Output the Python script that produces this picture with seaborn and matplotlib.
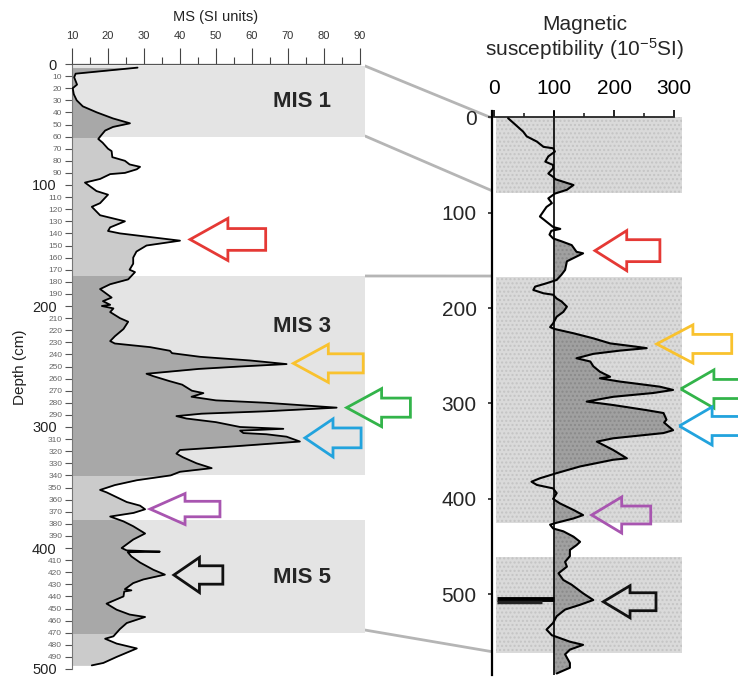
import matplotlib
matplotlib.use("Agg")
import matplotlib.pyplot as plt
import seaborn as sns
import numpy as np
import pandas as pd
from matplotlib.patches import Rectangle, Polygon, ConnectionPatch
from matplotlib.transforms import ScaledTranslation

# ---------------- data ----------------
left_depth = [3, 8, 11, 17, 20, 25, 30, 35, 40, 45, 49, 52, 55, 60, 62, 65, 70, 72, 77, 80,
              83, 85, 87, 90, 91, 95, 98, 105, 108, 115, 118, 125, 128, 130, 135, 138, 140, 143,
              146, 150, 155, 160, 165, 170, 172, 178, 182, 186, 190, 193, 196, 199, 200, 202,
              205, 210, 213, 219, 225, 229, 231, 234, 237, 239, 242, 245, 248, 250, 252, 256,
              258, 262, 265, 270, 272, 275, 278, 280, 284, 287, 289, 291, 293, 296, 300, 301.5,
              303, 305, 306, 308, 312, 316, 319, 322, 325, 330, 334, 337, 340, 344, 348, 352,
              354, 358, 362, 365, 368, 371, 374, 378, 382, 388, 393, 400, 402, 403, 403.5, 407,
              412, 418, 422, 426, 429, 434, 435, 436, 440, 446, 451, 455, 457, 462, 467, 470,
              473, 475, 479, 483, 490, 495, 497]
left_ms = [28.2, 11.0, 10.6, 11.4, 10.2, 10.5, 11.3, 13.0, 16.9, 21.4, 26.1, 21.4, 19.2, 17.8,
           17.3, 18.5, 20.0, 21.0, 21.2, 24.7, 26.0, 28.9, 28.0, 24.7, 20.6, 17.8, 13.6, 16.8,
           20.0, 17.8, 15.5, 17.8, 21.9, 24.7, 20.6, 20.0, 23.3, 31.7, 40.0, 30.7, 27.9, 27.0,
           27.0, 26.0, 27.5, 25.6, 20.6, 17.8, 19.6, 21.0, 18.6, 20.6, 18.3, 21.5, 20.6, 23.3,
           25.6, 24.3, 21.9, 20.6, 21.9, 31.7, 37.2, 37.8, 45.6, 59.4, 69.6, 56.7, 45.2, 30.7,
           32.6, 37.0, 40.6, 43.3, 46.5, 43.2, 50.0, 64.0, 83.5, 64.0, 46.0, 39.0, 41.8, 50.0,
           56.7, 68.7, 56.7, 57.6, 64.0, 69.6, 73.3, 55.0, 40.0, 39.0, 40.8, 44.6, 48.8, 40.0,
           37.4, 28.0, 21.9, 17.8, 19.6, 22.4, 25.2, 28.9, 30.3, 27.1, 20.6, 24.3, 27.0, 30.3,
           27.0, 23.8, 25.2, 34.4, 25.5, 26.5, 28.9, 32.6, 35.8, 29.8, 27.0, 24.7, 26.5, 24.5,
           24.3, 19.6, 22.4, 26.0, 30.3, 25.2, 23.3, 22.4, 21.5, 19.2, 22.4, 28.0, 22.4, 18.7,
           15.5]

right_depth = [1, 6, 15, 20, 25.5, 31, 32.5, 36, 41, 46.5, 50, 53.5, 59, 62.5, 65, 71, 76, 80,
               85, 90, 94, 104, 109.5, 115, 117, 119, 123, 127, 130, 134, 141, 142.6, 146, 151,
               160, 165, 170.5, 174, 177.5, 181, 184.5, 186, 190, 193, 198.5, 204, 209, 216,
               220, 222, 226.4, 231.7, 237, 240.5, 242, 244.6, 248, 252.6, 256, 261, 266.7,
               272, 273.6, 277, 280.6, 282.4, 285.8, 289, 293, 298, 301.6, 307, 310, 317, 320,
               328, 331, 336.5, 340, 348.7, 357.5, 359, 366, 373, 378.4, 382, 385.4, 389, 394,
               400, 404.6, 411.6, 417, 420.5, 425, 427, 431, 434, 439.6, 445, 448.5, 453.5,
               460, 466, 471, 478, 485, 490, 499, 506, 511, 516, 523, 530, 537, 543, 544,
               549.7, 553, 558, 563, 572, 577, 583]
right_ms = [23, 32, 48, 54, 71, 82, 98, 101, 90, 85, 98, 98, 90, 98, 102, 132, 121, 101, 90,
            96, 87, 76, 87, 98, 110, 95, 92, 98, 112, 129, 137, 148, 137, 121, 118, 112, 104,
            87, 68, 65, 82, 98, 104, 112, 121, 115, 104, 98, 93, 101, 132, 165, 193, 237, 254,
            209, 165, 137, 160, 165, 176, 193, 176, 209, 254, 276, 298, 265, 198, 154, 198,
            254, 282, 287, 283, 298, 282, 198, 171, 198, 221, 198, 143, 104, 76, 62, 71, 98,
            104, 98, 109, 132, 148, 132, 104, 93, 98, 115, 132, 143, 137, 126, 126, 118, 121,
            107, 115, 129, 148, 165, 143, 118, 104, 98, 87, 96, 101, 126, 148, 126, 118, 126,
            126, 104]

# black off-scale spikes in the right record
spike_depth = [504.5, 508.5]
spike_left = [4, 4]
spike_right = [100, 80]

# MIS stages (left) and shaded units (right)
mis_names = ["MIS 1", "MIS 3", "MIS 5"]
mis_top = [2, 175, 377]
mis_bottom = [60, 340, 470]
mis_label_depth = [31, 217, 424]
right_band_top = [0, 167, 460.6]
right_band_bottom = [79, 425, 562]

left_xticks = [10, 20, 30, 40, 50, 60, 70, 80, 90]
right_xticks = [0, 100, 200, 300]
right_yticks = [0, 100, 200, 300, 400, 500]

# arrows: (tip value, head-base value, tail value, depth, head half-height, shaft half-height)
arrow_colors = ["#e53935", "#f9c22e", "#33b44a", "#22a3dd", "#a855b0", "#111111"]
left_arrows = [(42.8, 53.3, 63.8, 145, 17.4, 9.0),
               (71.5, 81.2, 90.9, 247.4, 15.7, 7.9),
               (86.3, 96.0, 104.0, 284, 15.7, 7.9),
               (74.7, 82.5, 90.3, 309, 15.7, 8.2),
               (31.7, 41.4, 51.1, 367.8, 12.8, 6.4),
               (38.3, 45.4, 51.9, 422.3, 14.5, 7.6)]
right_arrows = [(167.8, 220.7, 276, 139.8, 21, 11.5),
                (270.7, 331, 395.7, 237.6, 20, 10),
                (310.7, 366, 442, 284.8, 20, 10),
                (308.3, 363, 442, 323.6, 20, 10),
                (162.3, 212.3, 260.7, 416.9, 18.9, 9.4),
                (181.7, 226.2, 269.5, 507.8, 16.8, 9.4)]

# ---------------- style ----------------
sns.set_style("white")
plt.rcParams["font.family"] = ["Liberation Sans", "DejaVu Sans"]
plt.rcParams["mathtext.fontset"] = "custom"
plt.rcParams["mathtext.rm"] = "Liberation Sans"
plt.rcParams["mathtext.it"] = "Liberation Sans:italic"

W, H = 738, 677
fig = plt.figure(figsize=(W / 100, H / 100), dpi=100)

# ---------------- left panel ----------------
axL = fig.add_axes([72 / W, 1 - 669 / H, 293 / W, 605 / H])
axL.set_xlim(10, 10 + 293 / 3.6)
axL.set_ylim(500, 0)
xmaxL = 10 + 293 / 3.6

dfL = pd.DataFrame({"depth": left_depth, "ms": left_ms})
band_rects = []
for t, b in zip(mis_top, mis_bottom):
    r = Rectangle((10, t), xmaxL - 10, b - t, facecolor="#e4e4e4", edgecolor="none", zorder=0)
    axL.add_patch(r)
    band_rects.append(r)

axL.fill_betweenx(dfL["depth"], 10, dfL["ms"], color="#cbcbcb", lw=0, zorder=1)
for r in band_rects:
    f = axL.fill_betweenx(dfL["depth"], 10, dfL["ms"], color="#a8a8a8", lw=0, zorder=1.5)
    f.set_clip_path(r)

sns.lineplot(data=dfL, x="ms", y="depth", sort=False, estimator=None, orient="y",
             color="black", lw=1.3, ax=axL, zorder=3)

for name, d in zip(mis_names, mis_label_depth):
    axL.text(73.8, d, name, ha="center", va="center", fontsize=16, fontweight="bold", zorder=4)

axL.xaxis.tick_top()
axL.xaxis.set_label_position("top")
axL.set_xticks(left_xticks)
axL.set_xticks([15, 25, 35, 45, 55, 65, 75, 85], minor=True)
axL.tick_params(axis="x", which="major", direction="out", length=11.5, width=0.8,
                colors="#444444", labelsize=8, pad=5, top=True, bottom=False, labelcolor="#333333")
axL.tick_params(axis="x", which="minor", direction="out", length=5, width=0.8,
                colors="#444444", top=True, bottom=False)
axL.set_xlabel("")
axL.set_ylabel("")

yt = list(range(0, 501, 10))
axL.set_yticks(yt)
axL.set_yticklabels([str(v) for v in yt])
axL.tick_params(axis="y", direction="out", length=5, width=0.8, colors="#555555", pad=2, left=True)
off = ScaledTranslation(-4 / 72, 0, fig.dpi_scale_trans)
for v, lab in zip(yt, axL.get_yticklabels()):
    if v % 100 == 0:
        lab.set_fontsize(10.5)
        lab.set_color("#222222")
        lab.set_transform(lab.get_transform() + off)
    else:
        lab.set_fontsize(6)
        lab.set_color("#666666")

for s in ["right", "bottom"]:
    axL.spines[s].set_visible(False)
axL.spines["top"].set_bounds(10, 90)
axL.spines["top"].set_color("#555555")
axL.spines["top"].set_linewidth(0.9)
axL.spines["left"].set_color("#777777")
axL.spines["left"].set_linewidth(0.8)
axL.grid(False)

for (tip, hb, tail, d, hh, sh), c in zip(left_arrows, arrow_colors):
    pts = [(tip, d), (hb, d - hh), (hb, d - sh), (tail, d - sh), (tail, d + sh), (hb, d + sh), (hb, d + hh)]
    axL.add_patch(Polygon(pts, closed=True, fill=False, edgecolor=c, lw=2.0, clip_on=False, zorder=5,
                          joinstyle="miter"))

fig.text(216 / W, 1 - 17 / H, "MS (SI units)", ha="center", va="center", fontsize=10.5, color="#222222")
fig.text(20 / W, 1 - 367 / H, "Depth (cm)", ha="center", va="center", rotation=90, fontsize=11,
         color="#222222")

# ---------------- right panel ----------------
axR = fig.add_axes([491.9 / W, 1 - 675 / H, (683 - 491.9) / W, (675 - 110.6) / H])
axR.set_xlim(-4, 314.5)
axR.set_ylim(584.6, -7)

for t, b in zip(right_band_top, right_band_bottom):
    axR.add_patch(Rectangle((3, t), 309, b - t, facecolor="#dadada", edgecolor="#c4c4c4",
                            hatch="....", lw=0, zorder=0))

rd = np.array(right_depth, dtype=float)
rv = np.array(right_ms, dtype=float)
axR.fill_betweenx(rd, 100, rv, where=rv > 100, interpolate=True, facecolor="#a0a0a0",
                  edgecolor="#8a8a8a", hatch="....", lw=0, zorder=1)
axR.axvline(100, color="black", lw=1.2, zorder=2)
dfR = pd.DataFrame({"depth": right_depth, "ms": right_ms})
sns.lineplot(data=dfR, x="ms", y="depth", sort=False, estimator=None, orient="y",
             color="black", lw=1.5, ax=axR, zorder=3)
axR.hlines(spike_depth, spike_left, spike_right, colors=["black", "#222222"], lw=[3.5, 2.5], zorder=3)

axR.xaxis.tick_top()
axR.set_xticks(right_xticks)
axR.set_xticks([50, 150, 250], minor=True)
axR.tick_params(axis="x", which="major", direction="out", length=5, width=1.2, colors="black",
                labelsize=15, pad=9, top=True, bottom=False)
axR.tick_params(axis="x", which="minor", direction="out", length=3, width=1.2, top=True, bottom=False)
axR.set_yticks(right_yticks)
axR.tick_params(axis="y", direction="out", length=3, width=1.2, labelsize=15, pad=8, left=True)
axR.set_xlabel("")
axR.set_ylabel("")
axR.spines["top"].set_position(("data", 0))
axR.spines["top"].set_bounds(0, 300)
axR.spines["top"].set_linewidth(1.3)
axR.spines["left"].set_linewidth(1.6)
axR.spines["left"].set_color("black")
for s in ["right", "bottom"]:
    axR.spines[s].set_visible(False)
axR.grid(False)

for (tip, hb, tail, d, hh, sh), c in zip(right_arrows, arrow_colors):
    pts = [(tip, d), (hb, d - hh), (hb, d - sh), (tail, d - sh), (tail, d + sh), (hb, d + sh), (hb, d + hh)]
    axR.add_patch(Polygon(pts, closed=True, fill=False, edgecolor=c, lw=2.0, clip_on=False, zorder=5,
                          joinstyle="miter"))

fig.text(585 / W, 1 - 24 / H, "Magnetic", ha="center", va="center", fontsize=15)
fig.text(585 / W, 1 - 49 / H, "susceptibility (10$^{-5}$SI)", ha="center", va="center", fontsize=15)

# ---------------- connecting lines ----------------
links_left = [1.6, 59.5, 175.2, 467.8]
links_right_x = [-7, 1, 8, 4]
links_right_d = [0, 78.3, 166.4, 561]
for dl, xr, dr in zip(links_left, links_right_x, links_right_d):
    con = ConnectionPatch(xyA=(xmaxL, dl), coordsA=axL.transData, xyB=(xr, dr), coordsB=axR.transData,
                          color="#b5b5b5", lw=2, zorder=0)
    fig.add_artist(con)

fig.savefig("out.png", dpi=100)
